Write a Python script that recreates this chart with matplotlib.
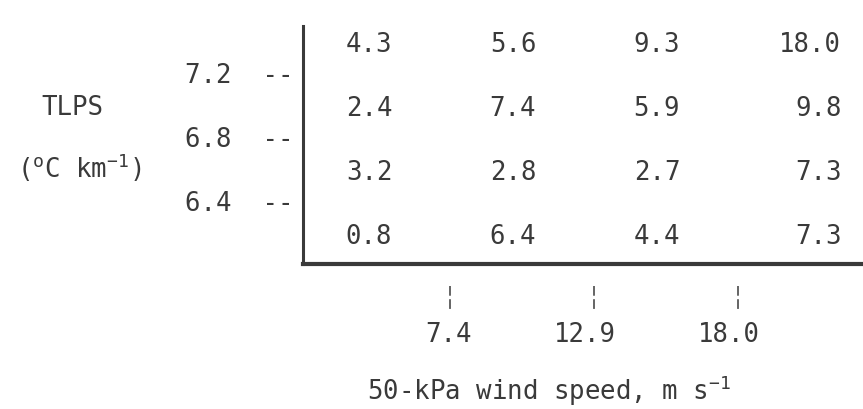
import matplotlib
matplotlib.use('Agg')
import matplotlib.pyplot as plt
from matplotlib.transforms import ScaledTranslation, blended_transform_factory

plt.rcParams['font.family'] = 'DejaVu Sans Mono'
plt.rcParams['mathtext.fontset'] = 'custom'
plt.rcParams['mathtext.rm'] = 'DejaVu Sans Mono'
plt.rcParams['mathtext.it'] = 'DejaVu Sans Mono'
plt.rcParams['mathtext.default'] = 'rm'
plt.rcParams['lines.scale_dashes'] = False

# TLPS class limits (deg C / km) and the middle of each row band, top to bottom
tlps_bounds = [7.2, 6.8, 6.4]
tlps_mid = [7.4, 7.0, 6.6, 6.2]

# 50-kPa wind speed class limits (m/s)
wind_bounds = ['7.4', '12.9', '18.0']

# table values, rows = TLPS high -> low, columns = wind low -> high
row1 = [4.3, 5.6, 9.3, 18.0]
row2 = [2.4, 7.4, 5.9, 9.8]
row3 = [3.2, 2.8, 2.7, 7.3]
row4 = [0.8, 6.4, 4.4, 7.3]
rows = [row1, row2, row3, row4]

ink = '#3a3a3a'
fs = 18.5

fig = plt.figure(figsize=(8.63, 4.10), dpi=100)
ax = fig.add_axes([303 / 863, 145 / 410, 560 / 863, 238 / 410])

# typed columns are right aligned (tab stops), last one further right
col_right = [0.6, 1.6, 2.6, 3.72]
for r, vals in enumerate(rows):
    for c, v in enumerate(vals):
        ax.text(col_right[c], tlps_mid[r], f'{v:.1f}', ha='right', va='center',
                fontsize=fs, color=ink)

ax.set_xlim(-0.02, 3.87)
ax.set_ylim(6.025, 7.5125)

ax.set_yticks(tlps_bounds)
ax.set_yticklabels([f'{b}  --' for b in tlps_bounds])
ax.set_xticks([1, 2, 3])
ax.set_xticklabels(wind_bounds)
ax.tick_params(length=0, labelsize=fs, labelcolor=ink)
ax.tick_params(axis='x', pad=41)
ax.tick_params(axis='y', pad=7)

# line the decimal points up under the tick marks
for lab in ax.get_xticklabels():
    lab.set_ha('right')
    lab.set_transform(lab.get_transform() + ScaledTranslation(0.22, 0, fig.dpi_scale_trans))
# typed row limits sit a little high
for lab in ax.get_yticklabels():
    lab.set_transform(lab.get_transform() + ScaledTranslation(0, 0.04, fig.dpi_scale_trans))

# broken tick marks below the axis
bx = blended_transform_factory(ax.transData, ax.transAxes)
for i in range(1, len(wind_bounds) + 1):
    ax.plot([i, i], [-0.092, -0.202], transform=bx, clip_on=False,
            color=ink, lw=1.1, dashes=(7, 2.5))

ax.spines['top'].set_visible(False)
ax.spines['right'].set_visible(False)
ax.spines['left'].set_linewidth(2.2)
ax.spines['bottom'].set_linewidth(3)
ax.spines['left'].set_color(ink)
ax.spines['bottom'].set_color(ink)

ax.set_xlabel('50-kPa wind speed, m s$^{-1}$', fontsize=fs, color=ink)
ax.xaxis.set_label_coords(0.44, -0.567)
ax.xaxis.label.set_va('baseline')

ax.text(-0.4125, 0.630, 'TLPS', transform=ax.transAxes, ha='center',
        va='baseline', fontsize=fs, color=ink)
ax.text(-0.40, 0.366, r'($^{\mathrm{o}}$C km$^{-1}$)', transform=ax.transAxes,
        ha='center', va='baseline', fontsize=fs, color=ink)

fig.savefig('out.png', dpi=100, facecolor='white')
